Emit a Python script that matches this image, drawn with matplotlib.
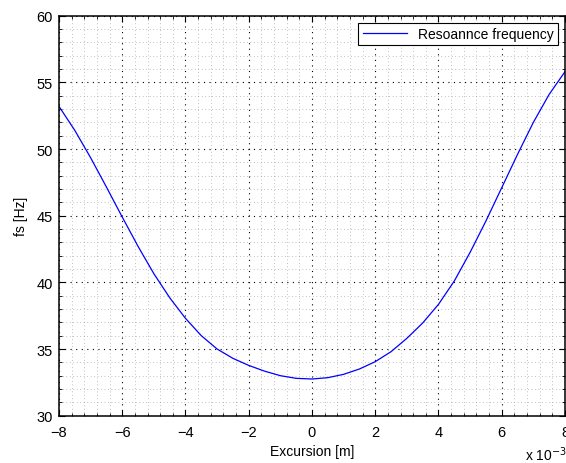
import numpy as np
import matplotlib
matplotlib.use("Agg")
import matplotlib.pyplot as plt
from matplotlib.ticker import MultipleLocator

plt.rcParams["font.family"] = ["Liberation Sans", "DejaVu Sans"]
plt.rcParams["font.size"] = 10

# Data: excursion (x 1e-3 m) vs resonance frequency (Hz)
excursion = [-8, -7.5, -7, -6.5, -6, -5.5, -5, -4.5, -4, -3.5, -3, -2.5, -2,
             -1.5, -1, -0.5, 0, 0.5, 1, 1.5, 2, 2.5, 3, 3.5, 4, 4.5, 5,
             5.5, 6, 6.5, 7, 7.5, 8]
fs = [53.2, 51.4, 49.35, 47.15, 44.9, 42.7, 40.65, 38.85, 37.3, 36.0, 35.0,
      34.3, 33.77, 33.34, 33.0, 32.8, 32.75, 32.85, 33.1, 33.5, 34.05, 34.8,
      35.8, 36.95, 38.35, 40.1, 42.25, 44.6, 47.1, 49.6, 52.0, 54.1, 55.8]

fig = plt.figure(figsize=(5.66, 4.64), dpi=100)
ax = fig.add_axes([0.1042, 0.102, 0.894, 0.862])

ax.plot(excursion, fs, color="blue", lw=0.9, label="Resoannce frequency")

ax.set_xlim(-8, 8)
ax.set_ylim(30, 60)
ax.xaxis.set_major_locator(MultipleLocator(2))
ax.xaxis.set_minor_locator(MultipleLocator(0.4))
ax.yaxis.set_major_locator(MultipleLocator(5))
ax.yaxis.set_minor_locator(MultipleLocator(1))

ax.grid(which="major", color="black", linestyle=(0, (1, 4)), lw=0.8)
ax.grid(which="minor", color="#888888", linestyle=(0, (1, 4)), lw=0.5)
ax.set_axisbelow(True)

ax.tick_params(which="both", direction="in", top=True, right=True,
               labelsize=10.5)
ax.tick_params(axis="x", which="major", pad=6.5)
ax.tick_params(axis="y", which="major", pad=4.5)
ax.tick_params(which="major", length=4, width=0.8)
ax.tick_params(which="minor", length=2, width=0.6)
for s in ax.spines.values():
    s.set_linewidth(1.1)

ax.set_xlabel("Excursion [m]", fontsize=10, labelpad=4)
ax.set_ylabel("fs [Hz]", fontsize=10, labelpad=6)

leg = ax.legend(loc="upper right", fancybox=False, edgecolor="black",
                framealpha=1, fontsize=10, handlelength=3.2,
                borderaxespad=0.5, borderpad=0.3)
leg.get_frame().set_linewidth(0.8)

fig.text(0.927, 0.006, r"x 10$^{-3}$", fontsize=10, va="baseline")

fig.savefig("out.png", dpi=100)
